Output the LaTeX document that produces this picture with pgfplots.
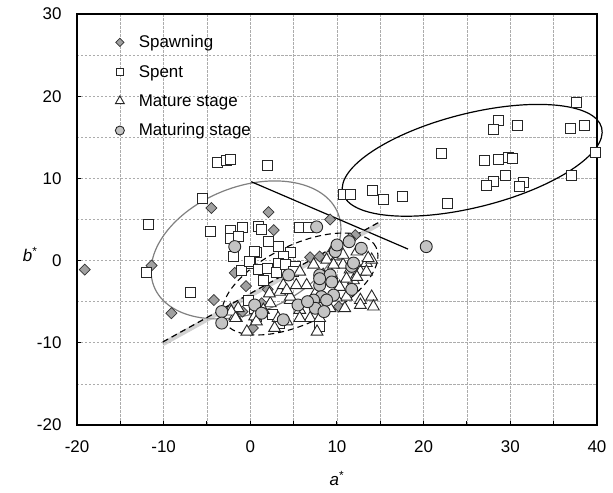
\documentclass[border=0pt]{standalone}
\usepackage{pgfplots}
\pgfplotsset{compat=1.18}
\usepackage{fontspec}
\setmainfont{Liberation Sans}
\definecolor{dia}{HTML}{A0A0A0}
\definecolor{cir}{HTML}{C4C4C4}
\definecolor{ell}{HTML}{808080}
\pgfplotsset{mylegend/.style={legend image code/.code={\path[draw=none] (0bp,0bp) (26bp,0bp); \draw[mark repeat=2,mark phase=2,/tikz/every mark/.append style={scale=0.75}] plot coordinates {(0bp,0bp)(9bp,0bp)(26bp,0bp)};}}}
\begin{document}
\begin{tikzpicture}
\def\fs{\fontsize{17}{20}\selectfont}
\begin{axis}[
 at={(0,0)}, anchor=south west,
 scale only axis, width=520bp, height=411bp,
 xmin=-20, xmax=40, ymin=-20, ymax=30,
 clip=false,
 xtick={-20,-10,...,40}, ytick={-20,-10,...,30},
 minor xtick={-15,-5,...,35}, minor ytick={-15,-5,...,25},
 grid=both,
 major grid style={gray!65, dash pattern=on 2.5bp off 1.5bp, line width=0.6bp},
 minor grid style={gray!65, dash pattern=on 2.5bp off 1.5bp, line width=0.6bp},
 tick pos=left, tick align=inside,
 major tick length=4bp, minor tick length=4bp,
 tick style={black, line width=1bp},
 minor y tick style={draw=none},
 axis line style={line width=1.3bp, black},
 tick label style={font=\fs},
 xticklabel style={yshift=-12bp},
 yticklabel style={xshift=-12bp},
 /pgf/number format/assume math mode=true,
 xlabel={\textit{a}\textsuperscript{*}},
 ylabel={\textit{b}\textsuperscript{*}},
 xlabel style={font=\fs, at={(axis description cs:0.5,-0.13)}, anchor=center},
 ylabel style={font=\fs, rotate=-90, at={(axis description cs:-0.09,0.414)}, anchor=center},
 legend style={draw=none, fill=none, font=\fs, at={(axis description cs:0.059,0.958)}, anchor=north west, row sep=12bp},
 legend cell align=left,
]
\addplot[only marks, mylegend, mark=square*, mark size=3.9bp, mark options={rotate=45, fill=dia, draw=black!80, line width=0.7bp}] coordinates {
(-19.1,-1.1) (-11.4,-0.6) (-9.1,-6.4) (-4.5,6.4) (-4.2,-4.8) (-1.8,-1.5)
(2.1,5.9) (2.7,3.7) (9.2,5.0) (-0.5,-3.1) (2.0,-3.5) (0.3,-8.2)
(6.9,0.4) (8.0,0.5) (12.1,3.1) (11.5,2.7) (-0.9,-6.2) (10.2,-5.6) (1.3,-5.2)
};
\addlegendentry{Spawning}
\addplot[only marks, mylegend, mark=square*, mark size=5bp, mark options={fill=white, draw=black!85, line width=0.9bp}] coordinates {
(-3.8,12.0) (-2.7,12.2) (-2.3,12.3) (2.0,11.6) (-5.5,7.6) (-11.7,4.4) (-12.0,-1.5) (-6.9,-3.9) (-4.6,3.6)
(-2.35,3.7) (-0.9,4.0) (-2.35,2.7) (-1.4,2.9) (-2.0,0.5) (0.7,1.0) (0,-0.3) (-1.0,-1.2)
(0.9,4.2) (1.3,3.8) (5.7,4.0) (6.7,4.0) (2.1,2.3) (3.3,1.7) (0.5,1.1) (4.6,1.0) (3.8,0.5)
(3.2,-0.3) (5.2,-0.7) (-0.1,-0.1) (0.9,-1.1) (2.0,-0.9) (3.0,-1.5) (4.0,-0.5) (5.0,-1.3)
(1.5,-2.4) (-0.25,-4.8) (0.7,-6.8) (2.5,-6.6) (3.4,-7.6) (8.0,-8.0) (0.5,-5.8)
(10.7,8.0) (11.5,8.0) (14.1,8.5) (15.4,7.4) (17.5,7.8) (22.8,6.9) (22.0,13.0)
(27.0,12.2) (28.6,12.3) (29.8,12.6) (30.3,12.4) (28.0,9.6) (27.2,9.1) (29.4,10.3)
(31.5,9.5) (31.0,9.0) (37.0,10.3) (39.8,13.1) (28.6,17.0) (28.1,15.9) (30.8,16.5)
(36.9,16.1) (38.5,16.5) (37.6,19.2)
};
\addlegendentry{Spent}
\addplot[only marks, mylegend, mark=triangle*, mark size=6.8bp, mark options={fill=white, draw=black!85, line width=0.9bp}] coordinates {
(8.8,0.1) (10.0,0.5) (10.7,-0.5) (9.4,-1.75) (11.5,-1.1) (12.7,-1.35) (13.4,-0.3) (14.0,0.1)
(11.9,-2.4) (10.3,-3.2) (11.1,-4.4) (12.7,-4.8) (14.0,-4.4) (14.2,-5.6) (8.0,-5.6) (6.9,-7.0)
(5.7,-6.0) (4.6,-4.8) (3.4,-3.8) (3.8,-3.0) (5.3,-3.0) (4.6,-4.4) (2.3,-5.2) (1.5,-6.0)
(0.5,-6.8) (-0.4,-8.65) (-1.6,-7.0) (-2.3,-6.0) (12.7,-5.4) (10.9,-5.8) (4.2,-3.6)
(11.1,-2.2) (12.3,-2.0) (8.0,-7.0) (5.7,-7.0) (4.2,-7.4) (9.2,-5.8) (7.7,-8.65)
(-1.8,-6.8) (3.2,-7.0) (0.7,-7.4) (-1.4,-5.8) (2.8,-8.2) (9.6,1.5) (10.7,0.7) (12.3,1.1)
(13.6,0.3) (11.7,-0.5) (9.6,-0.5) (7.3,-0.5) (8.4,-1.75) (5.7,-1.35) (13.4,-1.35)
(6.5,-3.0) (7.5,-4.0) (9.9,-4.5) (2.2,-4.0) (-2.2,-6.2) (-1.7,-7.0)
};
\addlegendentry{Mature stage}
\addplot[only marks, mylegend, mark=*, mark size=6bp, mark options={fill=cir, draw=black!85, line width=0.9bp}] coordinates {
(7.65,4.1) (-1.8,1.7) (9.8,1.1) (11.4,2.3) (12.8,1.5) (11.7,-0.7) (8.0,-1.75) (9.2,-1.75)
(8.0,-3.0) (9.4,-2.6) (8.2,-4.4) (9.6,-4.2) (8.8,-4.8) (7.3,-4.8) (7.5,-5.8) (4.4,-1.75)
(5.5,-5.4) (3.8,-7.2) (0.5,-5.4) (-3.3,-6.2) (-3.3,-7.6) (11.7,-3.5) (20.3,1.7) (8.0,-2.2)
(10.0,1.9) (11.9,-0.3) (1.3,-6.4) (8.5,-6.2) (6.6,-5.0)
};
\addlegendentry{Maturing stage}
% annotations
\draw[black, line width=1.2bp] (axis cs:25.6,12.2) ellipse [x radius=133.5bp, y radius=46.9bp, rotate=14.1];
\draw[ell, line width=1.2bp] (axis cs:-0.5,1.3) ellipse [x radius=99bp, y radius=63bp, rotate=21.6];
\draw[black, line width=1.1bp, dash pattern=on 6bp off 4bp] (axis cs:5.73,-2.85) ellipse [x radius=84.5bp, y radius=39.2bp, rotate=25.8];
\draw[black, line width=1.2bp] (axis cs:0.1,9.6) -- (axis cs:18.2,1.4);
\draw[gray!60, opacity=0.6, line width=4.5bp, yshift=-2bp] (axis cs:-10.1,-9.9) -- (axis cs:14.9,4.7);
\draw[black, line width=1.2bp, dash pattern=on 6bp off 4bp] (axis cs:-10.1,-9.9) -- (axis cs:14.9,4.7);
\end{axis}
\pgfresetboundingbox
\path[use as bounding box] (-77bp,-68bp) rectangle (536bp,425bp);
\end{tikzpicture}
\end{document}
